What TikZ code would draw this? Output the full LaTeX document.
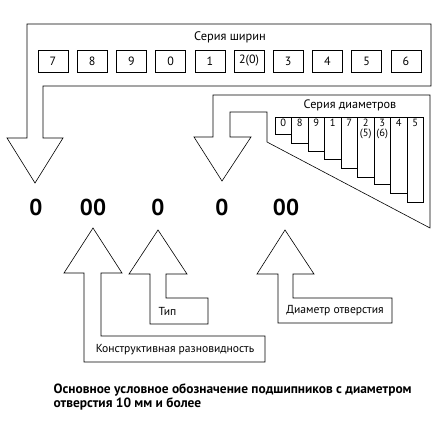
\documentclass[tikz,border=0pt]{standalone}
\usepackage{fontspec}
\setmainfont{PT Sans}
\usepackage{tikz}
\usetikzlibrary{positioning}

\begin{document}
\begin{tikzpicture}[x=1pt,y=-1pt,line width=0.6pt,node distance=39.2pt,
	width box/.style={rectangle,draw,minimum width=30pt,minimum height=22pt,inner sep=0pt,font=\fontsize{12}{12}\selectfont},
	diam box/.style={rectangle,draw,anchor=north,minimum width=16.5pt,inner sep=0pt},
	diam label/.style={anchor=north,inner sep=2pt,align=center,font=\fontsize{10.5}{10}\selectfont},
	code/.style={font=\fontsize{23}{23}\selectfont\bfseries},
	caption/.style={font=\fontsize{11.6}{12}\selectfont}]

	\useasboundingbox (0,0) rectangle (434,425);

	% width series
	\draw (43,138) -- (43,86) -- (431,86) -- (431,24) -- (27,24) -- (27,138)
		-- (7,138) -- (35,183) -- (63,138) -- cycle;
	\node[caption,font=\fontsize{12.4}{12}\selectfont] (wtitle) at (230,37) {Серия ширин};
	\node[width box] (w1) at (53,61) {7};
	\node[width box] (w2) [right of=w1] {8};
	\node[width box] (w3) [right of=w2] {9};
	\node[width box] (w4) [right of=w3] {0};
	\node[width box] (w5) [right of=w4] {1};
	\node[width box] (w6) [right of=w5] {2(0)};
	\node[width box] (w7) [right of=w6] {3};
	\node[width box] (w8) [right of=w7] {4};
	\node[width box] (w9) [right of=w8] {5};
	\node[width box] (w10) [right of=w9] {6};

	% diameter series
	\draw (230,137) -- (230,112) -- (267,112) -- (267,142) -- (430,228) -- (430,95)
		-- (213,95) -- (213,137) -- (194,137) -- (222,181) -- (251,137) -- cycle;
	\node[caption,font=\fontsize{12.2}{12}\selectfont] (dtitle) at (350,105) {Серия диаметров};
	\node[diam box,minimum height=17pt,label={[diam label]north:0}] (d1) at (283.25,117) {};
	\node[diam box,minimum height=26pt,label={[diam label]north:8}] (d2) at (299.75,117) {};
	\node[diam box,minimum height=34pt,label={[diam label]north:9}] (d3) at (316.25,117) {};
	\node[diam box,minimum height=42pt,label={[diam label]north:1}] (d4) at (332.75,117) {};
	\node[diam box,minimum height=51pt,label={[diam label]north:7}] (d5) at (349.25,117) {};
	\node[diam box,minimum height=60pt,label={[diam label]north:{2\\(5)}}] (d6) at (365.75,117) {};
	\node[diam box,minimum height=67pt,label={[diam label]north:{3\\(6)}}] (d7) at (382.25,117) {};
	\node[diam box,minimum height=76pt,label={[diam label]north:4}] (d8) at (398.75,117) {};
	\node[diam box,minimum height=85pt,label={[diam label]north:5}] (d9) at (415.25,117) {};

	% designation
	\node[code] (c1) at (36,207) {0};
	\node[code] (c2) at (93,207) {00};
	\node[code] (c3) at (158,207) {0};
	\node[code] (c4) at (222,207) {0};
	\node[code] (c5) at (286,207) {00};

	% design variant
	\draw (93,228) -- (122,273) -- (101,273) -- (101,336) -- (265,336) -- (265,362)
		-- (84,362) -- (84,273) -- (64,273) -- cycle;
	\node[caption] (variant) at (175,350) {Конструктивная разновидность};

	% type
	\draw (158,230) -- (187,274) -- (166,274) -- (166,298) -- (208,298) -- (208,324)
		-- (150,324) -- (150,274) -- (129,274) -- cycle;
	\node[caption,anchor=west] (type) at (155,311) {Тип};

	% bore diameter
	\draw (285,230) -- (314,274) -- (293,274) -- (293,298) -- (392,298) -- (392,323)
		-- (278,323) -- (278,274) -- (257,274) -- cycle;
	\node[caption] (bore) at (335,311) {Диаметр отверстия};

	\node[caption,font=\fontsize{13.4}{14.5}\selectfont\bfseries,anchor=north west,align=left] (note) at (50,380)
		{Основное условное обозначение подшипников с диаметром\\отверстия 10 мм и более};
\end{tikzpicture}
\end{document}
